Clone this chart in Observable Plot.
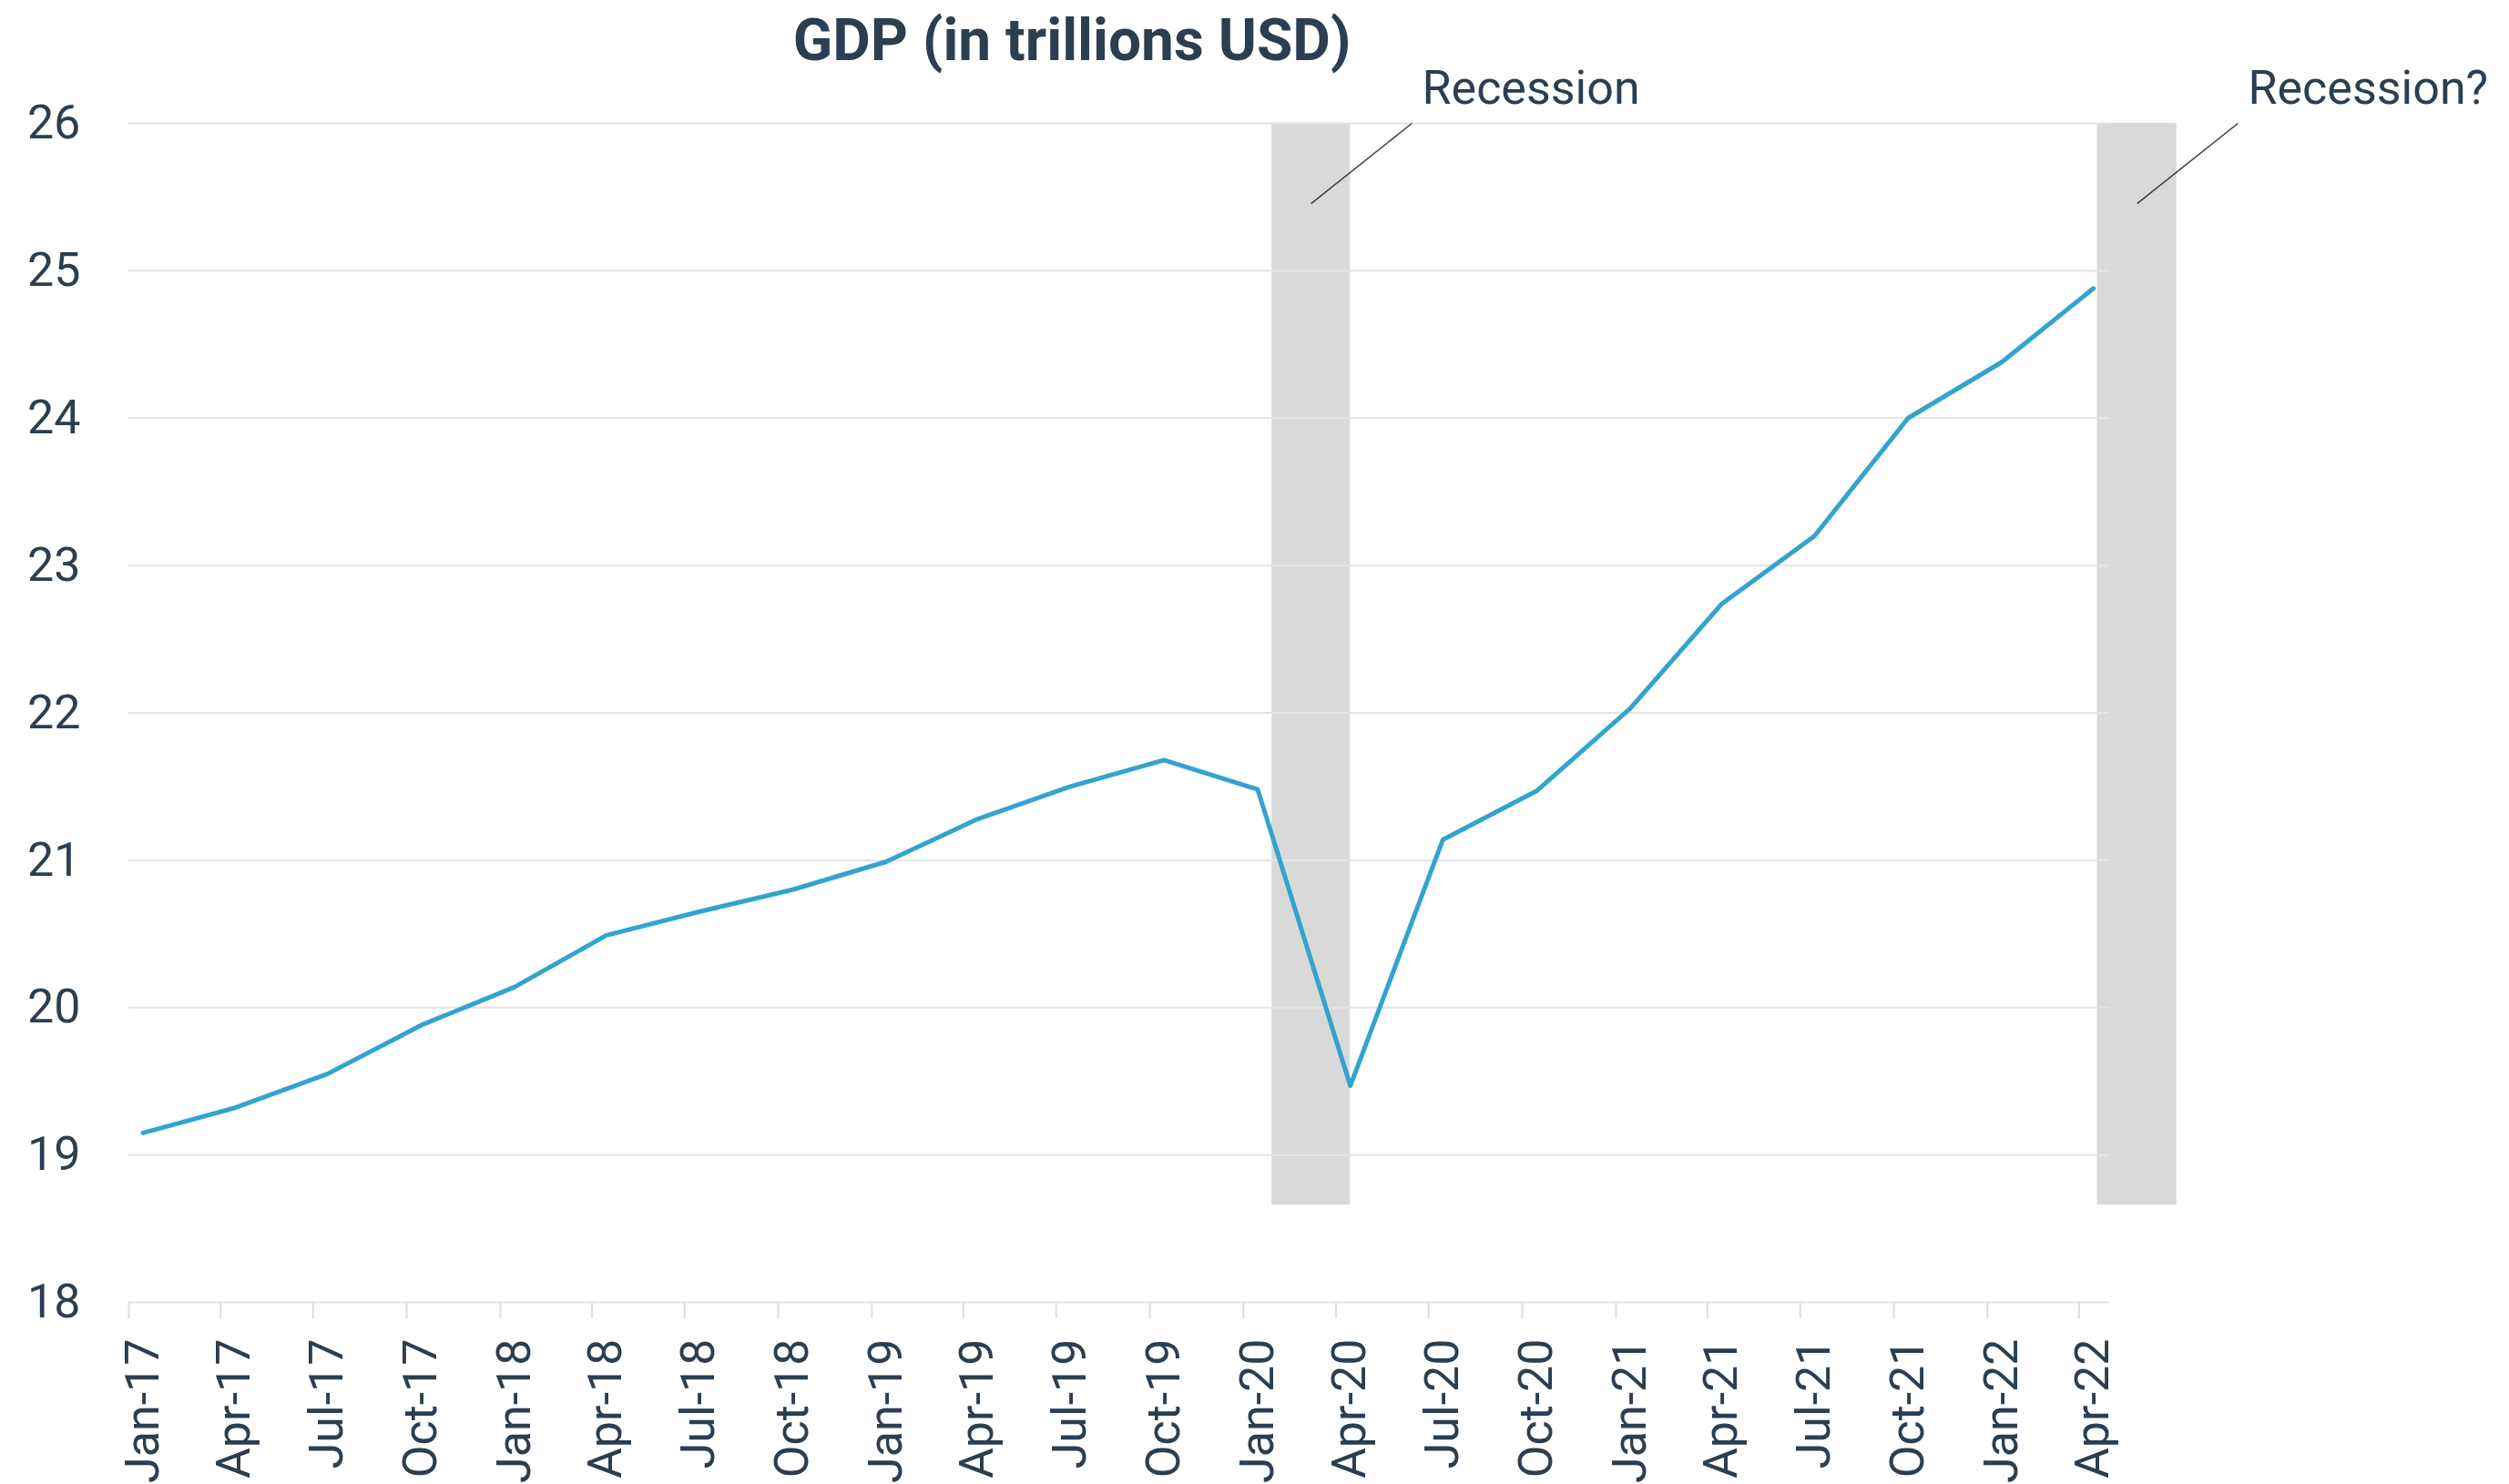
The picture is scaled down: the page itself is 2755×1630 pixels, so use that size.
<!DOCTYPE html>
<html>
<head>
<meta charset="utf-8">
<script src="https://cdn.jsdelivr.net/npm/d3@7"></script>
<script src="https://cdn.jsdelivr.net/npm/@observablehq/plot@0.6"></script>
<style>
html, body { margin: 0; padding: 0; background: #ffffff; }
#title {
  height: 80px; width: 2354px; text-align: center; white-space: nowrap;
  font: 700 64px/90px Roboto, sans-serif; color: #2c3e50;
}
</style>
</head>
<body>
<div id="title">GDP (in trillions USD)</div>
<div id="chart"></div>
<script>
// Quarterly observations (plotted mid-month of the quarter's first month)
const quarterDates = [
  "2017-01-15","2017-04-15","2017-07-15","2017-10-15",
  "2018-01-15","2018-04-15","2018-07-15","2018-10-15",
  "2019-01-15","2019-04-15","2019-07-15","2019-10-15",
  "2020-01-15","2020-04-15","2020-07-15","2020-10-15",
  "2021-01-15","2021-04-15","2021-07-15","2021-10-15",
  "2022-01-15","2022-04-15"
];
const gdpValues = [
  19.15, 19.32, 19.55, 19.88,
  20.14, 20.49, 20.65, 20.80,
  20.99, 21.28, 21.50, 21.68,
  21.48, 19.47, 21.14, 21.47,
  22.03, 22.74, 23.20, 24.00,
  24.38, 24.88
];
// Quarter-start tick marks
const tickDates = [
  "2017-01-01","2017-04-01","2017-07-01","2017-10-01",
  "2018-01-01","2018-04-01","2018-07-01","2018-10-01",
  "2019-01-01","2019-04-01","2019-07-01","2019-10-01",
  "2020-01-01","2020-04-01","2020-07-01","2020-10-01",
  "2021-01-01","2021-04-01","2021-07-01","2021-10-01",
  "2022-01-01","2022-04-01"
];
const yTicks = [18, 19, 20, 21, 22, 23, 24, 25, 26];
// Recession shading periods and labels
const recessionStart = ["2020-01-29", "2022-04-19"];
const recessionEnd = ["2020-04-15", "2022-07-06"];
const recessionLabels = ["Recession", "Recession?"];
const recessionBandBottom = 18.66;
const recessionBandTop = 26;

const parse = d3.utcParse("%Y-%m-%d");
const data = quarterDates.map((d, i) => ({date: parse(d), gdp: gdpValues[i]}));
const ticks = tickDates.map(parse);
const labelTicks = quarterDates.map(parse);

const recessions = recessionStart.map((s, i) => {
  const start = parse(s), end = parse(recessionEnd[i]);
  const mid = new Date((+start + +end) / 2);
  const top = d3.utcDay.offset(mid, 99);
  return {
    start, end, label: recessionLabels[i],
    lx1: mid, ly1: 25.456,
    lx2: top, ly2: 26,
    tx: d3.utcDay.offset(top, 10), ty: 26.13
  };
});

const textColor = "#2c3e50";

const chart = Plot.plot({
  width: 2755,
  height: 1550,
  marginLeft: 141,
  marginRight: 439,
  marginTop: 55,
  marginBottom: 200,
  style: {fontFamily: "Roboto, sans-serif", color: textColor, background: "#ffffff", overflow: "visible"},
  x: {type: "utc", domain: [parse("2017-01-01"), parse("2022-05-01")]},
  y: {domain: [18, 26]},
  marks: [
    Plot.rectY(recessions, {
      x1: "start", x2: "end",
      y1: () => recessionBandBottom, y2: () => recessionBandTop,
      fill: "#d9d9d9"
    }),
    Plot.ruleY(yTicks, {stroke: "#e4e4e4", strokeWidth: 2}),
    Plot.axisX(ticks, {
      tickSize: 18, tickFormat: () => "", stroke: "#dedede", strokeWidth: 2, label: null
    }),
    Plot.axisX(labelTicks, {
      tickSize: 0, tickPadding: 40, tickRotate: -90,
      tickFormat: d3.utcFormat("%b-%y"), fontSize: 52, fill: textColor, label: null
    }),
    Plot.axisY(yTicks, {
      tickSize: 0, tickPadding: 53, fontSize: 52, fill: textColor, label: null,
      tickFormat: d3.format("d")
    }),
    Plot.lineY(data, {
      x: "date", y: "gdp", stroke: "#33a3cf", strokeWidth: 5,
      strokeLinejoin: "round", strokeLinecap: "round"
    }),
    Plot.link(recessions, {
      x1: "lx1", y1: "ly1", x2: "lx2", y2: "ly2",
      stroke: "#3c3c3c", strokeWidth: 1.5
    }),
    Plot.text(recessions, {
      x: "tx", y: "ty", text: "label",
      textAnchor: "start", lineAnchor: "bottom",
      fontSize: 52, fill: textColor
    })
  ]
});
document.getElementById("chart").appendChild(chart);
</script>
</body>
</html>
